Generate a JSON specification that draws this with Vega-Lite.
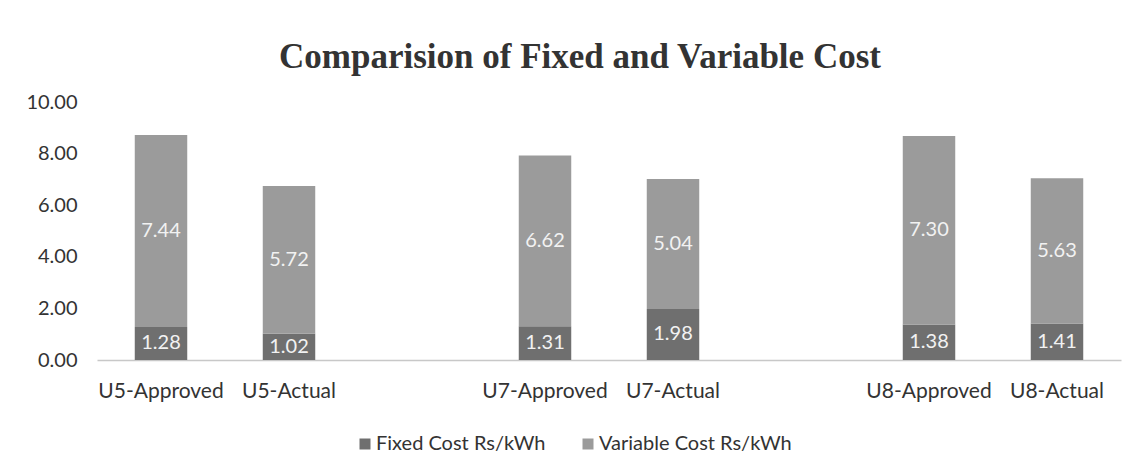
{
  "$schema": "https://vega.github.io/schema/vega-lite/v6.json",
  "width": 1024,
  "height": 258,
  "autosize": {"type": "none"},
  "padding": {"left": 97, "top": 102, "right": 16, "bottom": 111},
  "background": "white",
  "config": {"font": "Lato", "view": {"stroke": null}},
  "title": {
    "text": "Comparision of Fixed and Variable Cost",
    "font": "Liberation Serif",
    "fontSize": 35,
    "fontWeight": "bold",
    "color": "#333333",
    "anchor": "middle",
    "dx": -29,
    "offset": 17
  },
  "data": {
    "values": [
      {"category": "U5-Approved", "type": "Fixed Cost Rs/kWh", "value": 1.28},
      {"category": "U5-Approved", "type": "Variable Cost Rs/kWh", "value": 7.44},
      {"category": "U5-Actual", "type": "Fixed Cost Rs/kWh", "value": 1.02},
      {"category": "U5-Actual", "type": "Variable Cost Rs/kWh", "value": 5.72},
      {"category": "U7-Approved", "type": "Fixed Cost Rs/kWh", "value": 1.31},
      {"category": "U7-Approved", "type": "Variable Cost Rs/kWh", "value": 6.62},
      {"category": "U7-Actual", "type": "Fixed Cost Rs/kWh", "value": 1.98},
      {"category": "U7-Actual", "type": "Variable Cost Rs/kWh", "value": 5.04},
      {"category": "U8-Approved", "type": "Fixed Cost Rs/kWh", "value": 1.38},
      {"category": "U8-Approved", "type": "Variable Cost Rs/kWh", "value": 7.30},
      {"category": "U8-Actual", "type": "Fixed Cost Rs/kWh", "value": 1.41},
      {"category": "U8-Actual", "type": "Variable Cost Rs/kWh", "value": 5.63}
    ]
  },
  "transform": [
    {"stack": "value", "groupby": ["category"], "sort": [{"field": "type", "order": "ascending"}], "as": ["v0", "v1"]},
    {"calculate": "(datum.v0 + datum.v1) / 2", "as": "mid"}
  ],
  "encoding": {
    "x": {
      "field": "category",
      "type": "nominal",
      "sort": null,
      "scale": {
        "domain": ["U5-Approved", "U5-Actual", "gap1", "U7-Approved", "U7-Actual", "gap2", "U8-Approved", "U8-Actual"],
        "paddingInner": 0.59,
        "paddingOuter": 0.295
      },
      "axis": {
        "title": null,
        "labelAngle": 0,
        "labelFontSize": 21,
        "labelColor": "#333333",
        "labelPadding": 20,
        "ticks": false,
        "domainColor": "#c8c8c8",
        "domainWidth": 1.5,
        "labelExpr": "indexof(datum.label, 'gap') == 0 ? '' : datum.label"
      }
    }
  },
  "layer": [
    {
      "mark": {"type": "bar"},
      "encoding": {
        "y": {
          "field": "v0",
          "type": "quantitative",
          "scale": {"domain": [0, 10], "nice": false},
          "axis": {
            "title": null,
            "values": [0, 2, 4, 6, 8, 10],
            "format": ".2f",
            "grid": false,
            "domain": false,
            "ticks": false,
            "labelPadding": 20,
            "labelFontSize": 20,
            "labelColor": "#333333"
          }
        },
        "y2": {"field": "v1"},
        "color": {
          "field": "type",
          "type": "nominal",
          "scale": {
            "domain": ["Fixed Cost Rs/kWh", "Variable Cost Rs/kWh"],
            "range": ["#6f6f6f", "#9b9b9b"]
          },
          "legend": {
            "title": null,
            "orient": "none",
            "direction": "horizontal",
            "legendX": 258,
            "legendY": 332,
            "symbolType": "square",
            "symbolSize": 121,
            "symbolStrokeWidth": 0,
            "labelFontSize": 20,
            "labelColor": "#333333",
            "labelOffset": 1,
            "labelLimit": 400,
            "columnPadding": 32
          }
        }
      }
    },
    {
      "mark": {"type": "text", "fontSize": 20, "color": "#f2f2f2", "baseline": "middle"},
      "encoding": {
        "y": {"field": "mid", "type": "quantitative"},
        "text": {"field": "value", "type": "quantitative", "format": ".2f"}
      }
    }
  ]
}
